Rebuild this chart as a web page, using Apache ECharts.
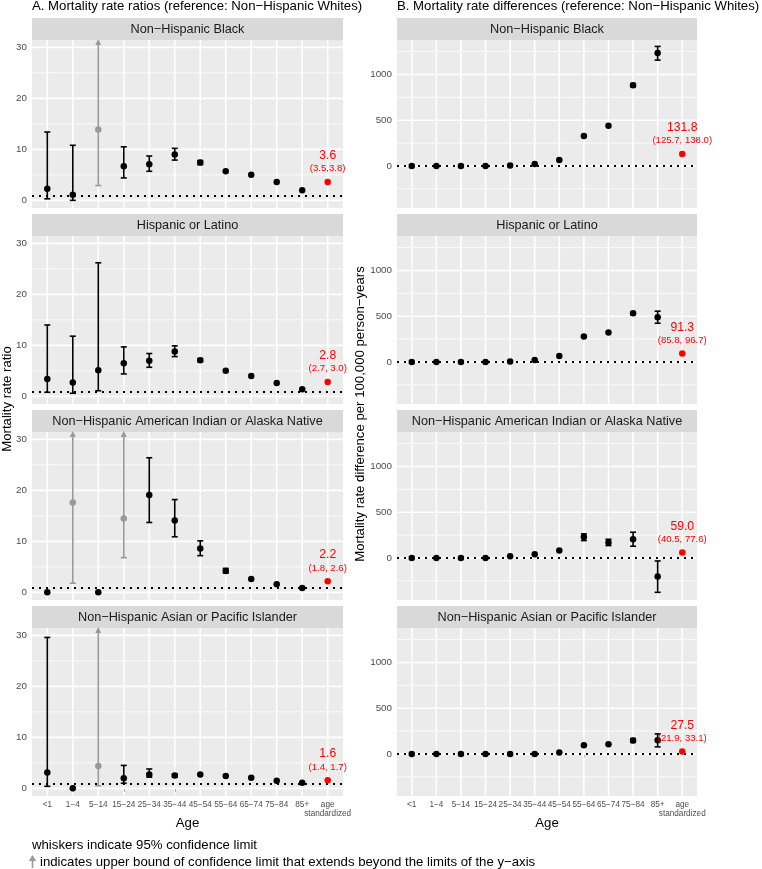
<!DOCTYPE html>
<html><head><meta charset="utf-8">
<script src="https://cdn.jsdelivr.net/npm/echarts@6/dist/echarts.min.js"></script>
<style>html,body{margin:0;padding:0;background:#fff}#c{width:762px;height:869px}</style>
</head><body><div id="c"></div>
<script>
// ---------------- data ----------------
const ageGroups = ["<1","1\u22124","5\u221214","15\u221224","25\u221234","35\u221244","45\u221254","55\u221264","65\u221274","75\u221284","85+","age\nstandardized"];
const groupNames = ["Non\u2212Hispanic Black","Hispanic or Latino","Non\u2212Hispanic American Indian or Alaska Native","Non\u2212Hispanic Asian or Pacific Islander"];

// A. mortality rate ratios (11 age groups); null = no whisker drawn
const ratioBlackEst = [2.3, 1.1, 13.9, 6.7, 7.1, 9.0, 7.4, 5.7, 5.0, 3.6, 2.0];
const ratioBlackLo  = [0.3, 0.0, 2.9, 4.4, 5.7, 7.9, 7.0, null, null, null, null];
const ratioBlackHi  = [13.4, 10.8, null, 10.5, 8.7, 10.2, 7.8, null, null, null, null];
const ratioBlackBeyond = [2];

const ratioHispEst = [3.4, 2.7, 5.1, 6.5, 7.0, 8.8, 7.1, 5.0, 4.0, 2.6, 1.4];
const ratioHispLo  = [0.8, 0.6, 1.1, 4.4, 5.7, 7.8, 6.8, null, null, null, null];
const ratioHispHi  = [14.0, 11.8, 26.2, 9.7, 8.4, 9.9, 7.4, null, null, null, null];
const ratioHispBeyond = [];

const ratioAianEst = [0.0, 17.6, 0.0, 14.5, 19.1, 14.1, 8.6, 4.2, 2.6, 1.6, 0.85];
const ratioAianLo  = [null, 1.8, null, 6.8, 13.7, 10.9, 7.2, 3.8, null, null, null];
const ratioAianHi  = [null, null, null, null, 26.4, 18.2, 10.1, 4.7, null, null, null];
const ratioAianBeyond = [1, 3];

const ratioAsianEst = [3.1, 0.0, 4.4, 2.0, 2.7, 2.5, 2.7, 2.4, 2.1, 1.5, 1.1];
const ratioAsianLo  = [0.4, null, 0.5, 1.0, 2.2, 2.2, null, null, null, null, null];
const ratioAsianHi  = [29.6, null, null, 4.5, 3.8, 2.8, null, null, null, null, null];
const ratioAsianBeyond = [2];

const stdRatio = [3.6, 2.8, 2.2, 1.6];
const stdRatioCI = ["(3.5,3.8)", "(2.7, 3.0)", "(1.8, 2.6)", "(1.4, 1.7)"];

// B. mortality rate differences per 100,000 person-years
const diffBlackEst = [0, 0, 0, 0, 4, 20, 66, 328, 438, 883, 1234];
const diffBlackLo  = [null, null, null, null, null, null, null, null, null, 865, 1157];
const diffBlackHi  = [null, null, null, null, null, null, null, null, null, 900, 1307];

const diffHispEst = [0, 0, 0, 0, 4, 22, 66, 277, 321, 533, 489];
const diffHispLo  = [null, null, null, null, null, null, null, null, null, 518, 423];
const diffHispHi  = [null, null, null, null, null, null, null, null, null, 548, 555];

const diffAianEst = [0, 0, 0, 0, 18, 40, 80, 230, 168, 204, -204];
const diffAianLo  = [null, null, null, null, null, null, null, 190, 135, 128, -376];
const diffAianHi  = [null, null, null, null, null, null, null, 263, 204, 281, -33];

const diffAsianEst = [0, 0, 0, 0, 0, 0, 15, 95, 106, 146, 150];
const diffAsianLo  = [null, null, null, null, null, null, null, null, null, 126, 77];
const diffAsianHi  = [null, null, null, null, null, null, null, null, null, 168, 219];

const stdDiff = [131.8, 91.3, 59.0, 27.5];
const stdDiffCI = ["(125.7, 138.0)", "(85.8, 96.7)", "(40.5, 77.6)", "(21.9, 33.1)"];

const ratioTicks = [0, 10, 20, 30];
const ratioMinor = [5, 15, 25];
const diffTicks = [0, 500, 1000];
const diffMinor = [-250, 250, 750, 1250];

// ---------------- layout ----------------
const FONT = "Liberation Sans, Arial, Helvetica, sans-serif";
const COLS = [{x: 32, w: 311}, {x: 397, w: 300}];
const TOPS = [40, 236, 432, 628], PH = 168, STRIP = 22;
const RANGES = [[-1.5, 31.45], [-460, 1377]];
const X_MIN = -0.6, X_MAX = 11.6;
const REFLINE = [1, 0];
const catIdx = ageGroups.map((_, i) => i);
// extra (hidden) end value so the library's min/max label overlap check never removes a real label
const xTickValues = catIdx.concat([X_MAX]);

const ratioSets = [
  [ratioBlackEst, ratioBlackLo, ratioBlackHi, ratioBlackBeyond],
  [ratioHispEst, ratioHispLo, ratioHispHi, ratioHispBeyond],
  [ratioAianEst, ratioAianLo, ratioAianHi, ratioAianBeyond],
  [ratioAsianEst, ratioAsianLo, ratioAsianHi, ratioAsianBeyond]
];
const diffSets = [
  [diffBlackEst, diffBlackLo, diffBlackHi, []],
  [diffHispEst, diffHispLo, diffHispHi, []],
  [diffAianEst, diffAianLo, diffAianHi, []],
  [diffAsianEst, diffAsianLo, diffAsianHi, []]
];

const grids = [], xAxes = [], yAxes = [], series = [], graphics = [];
const GREY = '#999999';

function gridRender(params, api) {
  const cs = params.coordSys;
  const kind = api.value(2), minor = api.value(3);
  const p = api.coord([api.value(0), api.value(1)]);
  const shape = kind === 0
    ? {x1: p[0], y1: cs.y, x2: p[0], y2: cs.y + cs.height}
    : {x1: cs.x, y1: p[1], x2: cs.x + cs.width, y2: p[1]};
  return {type: 'line', shape: shape, style: {stroke: '#ffffff', lineWidth: minor ? 0.8 : 1.6}};
}

function barRender(params, api) {
  const cs = params.coordSys;
  const x = api.value(0), lo = api.value(1), hi = api.value(2), beyond = api.value(3);
  const color = beyond ? GREY : '#000000';
  const pLo = api.coord([x, lo]);
  const cx = pLo[0];
  const topY = beyond ? cs.y : api.coord([x, hi])[1];
  const cap = 3;
  const children = [
    {type: 'line', shape: {x1: cx, y1: pLo[1], x2: cx, y2: beyond ? topY + 3 : topY}, style: {stroke: color, lineWidth: 1.6}},
    {type: 'line', shape: {x1: cx - cap, y1: pLo[1], x2: cx + cap, y2: pLo[1]}, style: {stroke: color, lineWidth: 1.6}}
  ];
  if (beyond) {
    children.push({type: 'polygon', shape: {points: [[cx, topY - 1], [cx - 3, topY + 5], [cx + 3, topY + 5]]}, style: {fill: color}});
  } else {
    children.push({type: 'line', shape: {x1: cx - cap, y1: topY, x2: cx + cap, y2: topY}, style: {stroke: color, lineWidth: 1.6}});
  }
  return {type: 'group', children: children};
}

function xLabel(v) {
  if (v > 11.5) return ' ';
  return ageGroups[Math.round(v)] || '';
}

for (let col = 0; col < 2; col++) {
  for (let row = 0; row < 4; row++) {
    const gi = grids.length;
    const C = COLS[col];
    const isBottom = row === 3;
    const ticks = col === 0 ? ratioTicks : diffTicks;
    const minor = col === 0 ? ratioMinor : diffMinor;
    const set = col === 0 ? ratioSets[row] : diffSets[row];
    const [est, lo, hi, beyondList] = set;
    const std = col === 0 ? stdRatio[row] : stdDiff[row];
    const stdCI = col === 0 ? stdRatioCI[row] : stdDiffCI[row];

    grids.push({left: C.x, top: TOPS[row], width: C.w, height: PH, show: true,
      backgroundColor: '#ebebeb', borderWidth: 0});
    xAxes.push({gridIndex: gi, type: 'value', min: X_MIN, max: X_MAX,
      splitLine: {show: false}, axisLine: {show: false},
      axisTick: {show: isBottom, customValues: xTickValues, length: 3.5, lineStyle: {color: '#333333', width: 1}},
      axisLabel: {show: isBottom, customValues: xTickValues, formatter: xLabel,
        showMinLabel: true, showMaxLabel: false, hideOverlap: false,
        margin: 5, fontSize: 8.2, lineHeight: 8.4, color: '#4d4d4d', fontFamily: FONT}});
    yAxes.push({gridIndex: gi, type: 'value', min: RANGES[col][0], max: RANGES[col][1],
      splitLine: {show: false}, axisLine: {show: false},
      axisTick: {show: true, customValues: ticks, length: 3, lineStyle: {color: '#333333', width: 1}},
      axisLabel: {show: true, customValues: ticks, formatter: v => String(v),
        fontSize: 9.8, color: '#4d4d4d', margin: 5, fontFamily: FONT}});

    const gdata = [];
    catIdx.forEach(i => gdata.push([i, 0, 0, 0]));
    ticks.forEach(v => gdata.push([0, v, 1, 0]));
    minor.forEach(v => gdata.push([0, v, 1, 1]));
    series.push({type: 'custom', xAxisIndex: gi, yAxisIndex: gi, silent: true, z: 1, clip: false,
      renderItem: gridRender, data: gdata, animation: false});

    const bars = [];
    est.forEach((e, i) => {
      const b = beyondList.indexOf(i) >= 0;
      if (lo[i] !== null && lo[i] !== undefined) bars.push([i, lo[i], b ? lo[i] : hi[i], b ? 1 : 0]);
    });
    series.push({type: 'custom', xAxisIndex: gi, yAxisIndex: gi, silent: true, z: 3, clip: false,
      renderItem: barRender, data: bars, animation: false});

    const pts = est.map((e, i) => ({value: [i, e],
      itemStyle: {color: beyondList.indexOf(i) >= 0 ? GREY : '#000000', opacity: 1}}));
    series.push({type: 'scatter', xAxisIndex: gi, yAxisIndex: gi, silent: true, z: 4,
      symbolSize: 6.5, data: pts, animation: false, itemStyle: {opacity: 1},
      markLine: {silent: true, symbol: 'none', animation: false, label: {show: false},
        lineStyle: {color: '#000000', type: [2, 5], width: 2, opacity: 1},
        data: [{yAxis: REFLINE[col]}]}});

    series.push({type: 'scatter', xAxisIndex: gi, yAxisIndex: gi, silent: true, z: 5,
      symbolSize: 6.5, itemStyle: {color: '#ff0000', opacity: 1}, animation: false,
      data: [{value: [11, std]}],
      label: {show: true, position: 'top', distance: 3.5,
        formatter: '{a|' + std.toFixed(1) + '}\n{b|' + stdCI + '}',
        rich: {a: {fontSize: 12.2, lineHeight: 13, color: '#ff0000', align: 'center', fontFamily: FONT},
               b: {fontSize: 9.6, lineHeight: 13, color: '#ff0000', align: 'center', fontFamily: FONT}}}});

    // strip
    graphics.push({type: 'rect', left: C.x, top: TOPS[row] - STRIP, silent: true,
      shape: {width: C.w, height: STRIP}, style: {fill: '#d9d9d9'}});
    graphics.push({type: 'text', silent: true, x: C.x + C.w / 2, y: TOPS[row] - STRIP / 2,
      style: {text: groupNames[row], fill: '#1a1a1a', fontSize: 12.7, fontFamily: FONT,
        textAlign: 'center', textVerticalAlign: 'middle'}});
  }
}

// titles & axis titles
graphics.push({type: 'text', silent: true, x: 32, y: 6.5,
  style: {text: 'A. Mortality rate ratios (reference: Non\u2212Hispanic Whites)', fill: '#000', fontSize: 13.2,
    fontFamily: FONT, textAlign: 'left', textVerticalAlign: 'middle'}});
graphics.push({type: 'text', silent: true, x: 397, y: 6.5,
  style: {text: 'B. Mortality rate differences (reference: Non\u2212Hispanic Whites)', fill: '#000', fontSize: 13.2,
    fontFamily: FONT, textAlign: 'left', textVerticalAlign: 'middle'}});
graphics.push({type: 'text', silent: true, x: 7, y: 399, rotation: Math.PI / 2,
  style: {text: 'Mortality rate ratio', fill: '#000', fontSize: 13.2, fontFamily: FONT,
    textAlign: 'center', textVerticalAlign: 'middle'}});
graphics.push({type: 'text', silent: true, x: 360, y: 414, rotation: Math.PI / 2,
  style: {text: 'Mortality rate difference per 100,000 person\u2212years', fill: '#000', fontSize: 13.2, fontFamily: FONT,
    textAlign: 'center', textVerticalAlign: 'middle'}});
graphics.push({type: 'text', silent: true, x: COLS[0].x + COLS[0].w / 2, y: 823,
  style: {text: 'Age', fill: '#000', fontSize: 13.2, fontFamily: FONT, textAlign: 'center', textVerticalAlign: 'middle'}});
graphics.push({type: 'text', silent: true, x: COLS[1].x + COLS[1].w / 2, y: 823,
  style: {text: 'Age', fill: '#000', fontSize: 13.2, fontFamily: FONT, textAlign: 'center', textVerticalAlign: 'middle'}});
graphics.push({type: 'text', silent: true, x: 32, y: 845,
  style: {text: 'whiskers indicate 95% confidence limit', fill: '#000', fontSize: 13.2, fontFamily: FONT,
    textAlign: 'left', textVerticalAlign: 'middle'}});
graphics.push({type: 'text', silent: true, x: 40, y: 862,
  style: {text: 'indicates upper bound of confidence limit that extends beyond the limits of the y\u2212axis', fill: '#000', fontSize: 13.2, fontFamily: FONT,
    textAlign: 'left', textVerticalAlign: 'middle'}});
graphics.push({type: 'line', silent: true, shape: {x1: 32.5, y1: 858, x2: 32.5, y2: 868}, style: {stroke: GREY, lineWidth: 1.6}});
graphics.push({type: 'polygon', silent: true, shape: {points: [[32.5, 855], [28.8, 861], [36.2, 861]]}, style: {fill: GREY}});

const chart = echarts.init(document.getElementById('c'), null, {renderer: 'canvas'});
chart.setOption({
  animation: false,
  backgroundColor: '#ffffff',
  grid: grids, xAxis: xAxes, yAxis: yAxes, series: series, graphic: graphics
});
</script></body></html>
